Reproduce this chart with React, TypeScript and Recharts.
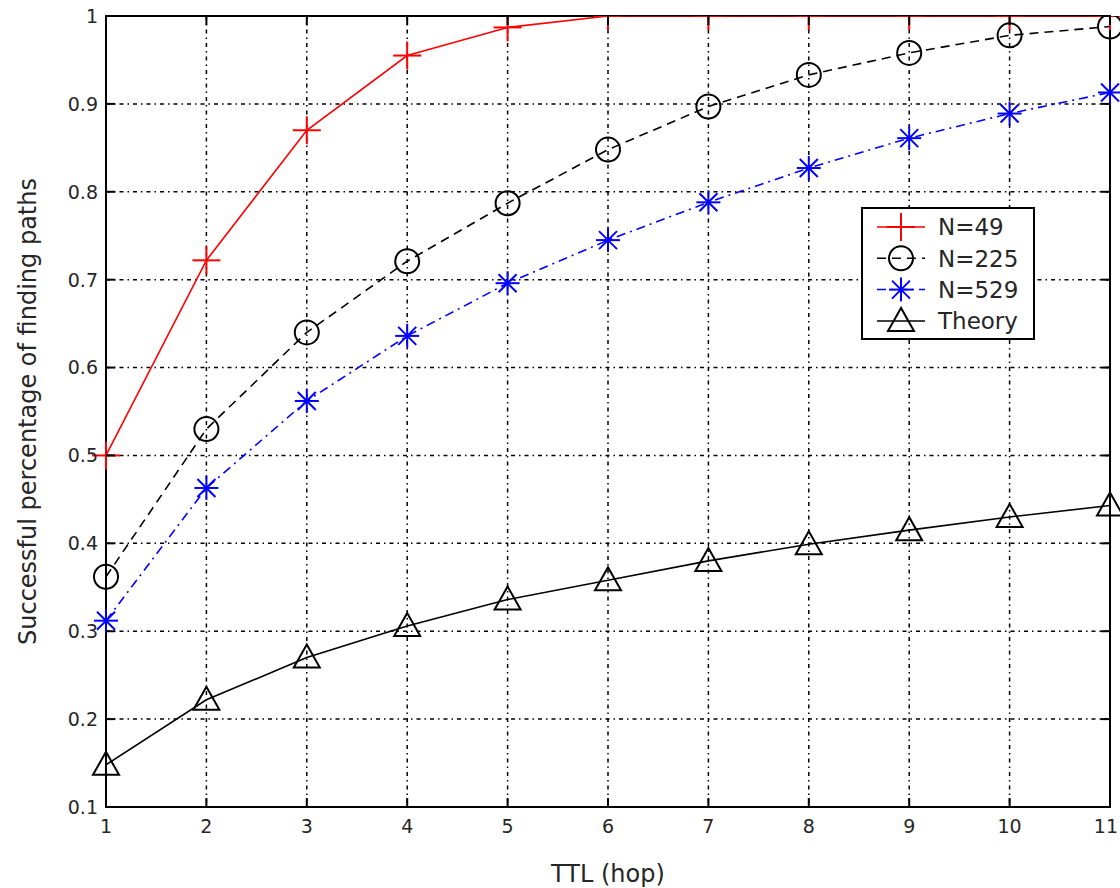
import React from 'react';
import {
  LineChart,
  Line,
  XAxis,
  YAxis,
  CartesianGrid,
  ReferenceArea,
  Legend,
  Label,
} from 'recharts';

const TTL = [1, 2, 3, 4, 5, 6, 7, 8, 9, 10, 11];
const N49 = [0.5, 0.722, 0.87, 0.955, 0.987, 1, 1, 1, 1, 1, 1];
const N225 = [0.362, 0.53, 0.64, 0.721, 0.787, 0.848, 0.897, 0.933, 0.958, 0.978, 0.988];
const N529 = [0.312, 0.463, 0.562, 0.636, 0.696, 0.745, 0.788, 0.827, 0.861, 0.889, 0.913];
const THEORY = [0.148, 0.222, 0.27, 0.306, 0.336, 0.358, 0.38, 0.399, 0.415, 0.43, 0.443];
const Y_TICKS = [0.1, 0.2, 0.3, 0.4, 0.5, 0.6, 0.7, 0.8, 0.9, 1];

const DATA = TTL.map((t, i) => ({
  ttl: t,
  n49: N49[i],
  n225: N225[i],
  n529: N529[i],
  theory: THEORY[i],
}));

const W = 1120;
const H = 888;
const TOP = 16;
const BOTTOM = 807;
const LEFT = 106;
const RIGHT = 1110;
const FONT = '"DejaVu Sans", "Liberation Sans", sans-serif';
const TEXT = '#262626';

// marker shapes, drawn around (cx, cy)
const plus = (cx: number, cy: number, color: string) => (
  <g stroke={color} strokeWidth={2}>
    <line x1={cx - 14} x2={cx + 14} y1={cy} y2={cy} />
    <line x1={cx} x2={cx} y1={cy - 14} y2={cy + 14} />
  </g>
);
const circle = (cx: number, cy: number, color: string) => (
  <circle cx={cx} cy={cy} r={12} fill="none" stroke={color} strokeWidth={2} />
);
const star = (cx: number, cy: number, color: string) => (
  <g stroke={color} strokeWidth={2}>
    <line x1={cx - 12} x2={cx + 12} y1={cy} y2={cy} />
    <line x1={cx} x2={cx} y1={cy - 12} y2={cy + 12} />
    <line x1={cx - 9} x2={cx + 9} y1={cy - 9} y2={cy + 9} />
    <line x1={cx - 9} x2={cx + 9} y1={cy + 9} y2={cy - 9} />
  </g>
);
const triangle = (cx: number, cy: number, color: string) => (
  <polygon
    points={`${cx},${cy - 13} ${cx - 13},${cy + 10} ${cx + 13},${cy + 10}`}
    fill="none"
    stroke={color}
    strokeWidth={2}
  />
);

const SERIES = [
  { key: 'n49', name: 'N=49', color: '#ff0000', dash: undefined, marker: plus },
  { key: 'n225', name: 'N=225', color: '#000000', dash: '9 6', marker: circle },
  { key: 'n529', name: 'N=529', color: '#0000ff', dash: '9 5 2 5', marker: star },
  { key: 'theory', name: 'Theory', color: '#000000', dash: undefined, marker: triangle },
];

const XTick = ({ x, y, payload }: any) => {
  // last label sits at the right edge of the page, keep it inside
  const atEdge = x + 14 > W;
  return (
    <g>
      <line x1={x} x2={x} y1={BOTTOM} y2={BOTTOM - 9} stroke="#000" strokeWidth={2} />
      <line x1={x} x2={x} y1={TOP} y2={TOP + 9} stroke="#000" strokeWidth={2} />
      <text
        x={atEdge ? W - 2 : x}
        y={y}
        dy="0.71em"
        textAnchor={atEdge ? 'end' : 'middle'}
        fontSize={19}
        fontFamily={FONT}
        fill={TEXT}
      >
        {payload.value}
      </text>
    </g>
  );
};

const YTick = ({ y, payload }: any) => (
  <g>
    <line x1={LEFT} x2={LEFT + 9} y1={y} y2={y} stroke="#000" strokeWidth={2} />
    <line x1={RIGHT} x2={RIGHT - 9} y1={y} y2={y} stroke="#000" strokeWidth={2} />
    <text x={LEFT - 8} y={y} dy="0.36em" textAnchor="end" fontSize={19} fontFamily={FONT} fill={TEXT}>
      {String(payload.value)}
    </text>
  </g>
);

const renderLegend = () => (
  <svg width={176} height={135} style={{ display: 'block' }}>
    <rect x={1} y={1} width={172} height={131} fill="#fff" stroke="#000" strokeWidth={2} />
    {SERIES.map((s, i) => {
      const cy = 20 + i * 31.3;
      return (
        <g key={s.key}>
          <line x1={16} x2={64} y1={cy} y2={cy} stroke={s.color} strokeWidth={1.5} strokeDasharray={s.dash} />
          {s.marker(40, cy, s.color)}
          <text x={77} y={cy} dy="0.36em" fontSize={23} fontFamily={FONT} fill={TEXT}>
            {s.name}
          </text>
        </g>
      );
    })}
  </svg>
);

export default function App() {
  return (
    <div style={{ position: 'absolute', left: 0, top: 0, width: W, height: H, background: '#fff' }}>
      <LineChart width={W} height={H} data={DATA} margin={{ top: TOP, right: W - RIGHT, left: 0, bottom: 0 }}>
        <CartesianGrid stroke="#000" strokeWidth={1.5} strokeDasharray="4 4 1.5 4" />
        <XAxis
          dataKey="ttl"
          type="number"
          domain={[1, 11]}
          ticks={TTL}
          height={H - BOTTOM}
          tick={<XTick />}
          tickLine={false}
          tickSize={0}
          tickMargin={13}
          axisLine={{ stroke: '#000', strokeWidth: 2 }}
          interval={0}
        >
          <Label
            content={() => (
              <text x={(LEFT + RIGHT) / 2} y={882} textAnchor="middle" fontSize={24} fontFamily={FONT} fill={TEXT}>
                TTL (hop)
              </text>
            )}
          />
        </XAxis>
        <YAxis
          type="number"
          domain={[0.1, 1]}
          ticks={Y_TICKS}
          width={LEFT}
          tick={<YTick />}
          tickLine={false}
          tickSize={0}
          axisLine={{ stroke: '#000', strokeWidth: 2 }}
          interval={0}
          allowDataOverflow
        >
          <Label
            content={() => (
              <text
                x={36}
                y={(TOP + BOTTOM) / 2}
                transform={`rotate(-90 36 ${(TOP + BOTTOM) / 2})`}
                textAnchor="middle"
                fontSize={24}
                fontFamily={FONT}
                fill={TEXT}
              >
                Successful percentage of finding paths
              </text>
            )}
          />
        </YAxis>
        <ReferenceArea x1={1} x2={11} y1={0.1} y2={1} fill="none" stroke="#000" strokeWidth={2} />
        {SERIES.map((s) => (
          <Line
            key={s.key}
            type="linear"
            dataKey={s.key}
            name={s.name}
            stroke={s.color}
            strokeWidth={1.6}
            strokeDasharray={s.dash}
            isAnimationActive={false}
            dot={(p: any) => <g key={`${s.key}-${p.index}`}>{s.marker(p.cx, p.cy, s.color)}</g>}
            activeDot={false}
          />
        ))}
        <Legend
          layout="vertical"
          align="center"
          verticalAlign="middle"
          content={renderLegend}
          wrapperStyle={{ position: 'absolute', left: 861, top: 207, width: 176, height: 135 }}
        />
      </LineChart>
    </div>
  );
}
